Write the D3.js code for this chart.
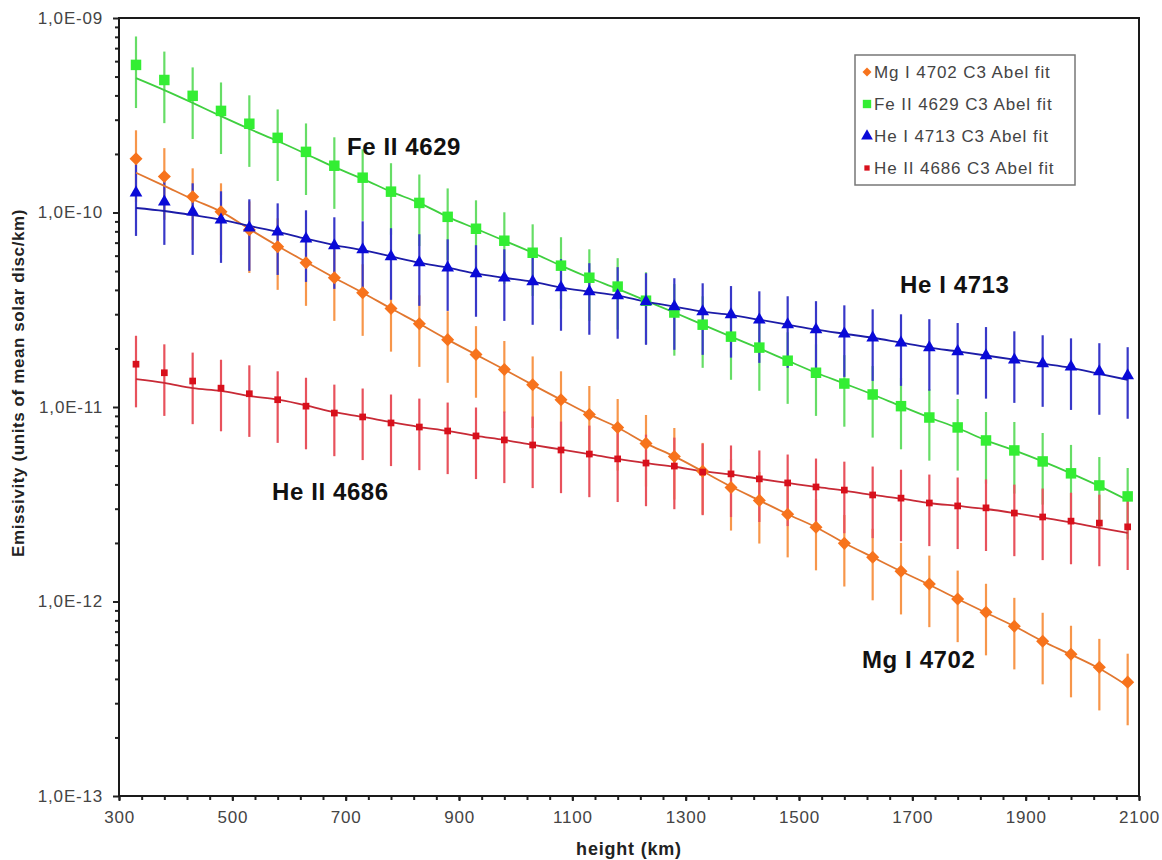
<!DOCTYPE html>
<html>
<head>
<meta charset="utf-8">
<script src="https://cdn.jsdelivr.net/npm/d3@7/dist/d3.min.js"></script>
<style>
  html, body { margin: 0; padding: 0; background: #fff; }
  svg { display: block; font-family: "Liberation Sans", Arial, sans-serif; }
</style>
</head>
<body>
<svg id="chart" width="1162" height="860"></svg>
<script>
// ---------------- data ----------------
const heights = [330,380,430,480,530,580,630,680,730,780,830,880,930,980,1030,1080,1130,1180,
                 1230,1280,1330,1380,1430,1480,1530,1580,1630,1680,1730,1780,1830,1880,1930,1980,2030,2080];

const mgI4702 = [1.89e-10,1.53e-10,1.205e-10,1.009e-10,8.15e-11,6.67e-11,5.52e-11,4.62e-11,3.87e-11,3.21e-11,
                 2.68e-11,2.22e-11,1.86e-11,1.56e-11,1.30e-11,1.09e-11,9.16e-12,7.85e-12,6.50e-12,5.57e-12,
                 4.67e-12,3.86e-12,3.31e-12,2.81e-12,2.41e-12,1.99e-12,1.69e-12,1.43e-12,1.23e-12,1.03e-12,
                 8.81e-13,7.46e-13,6.25e-13,5.36e-13,4.59e-13,3.85e-13];
const feII4629 = [5.74e-10,4.80e-10,3.98e-10,3.33e-10,2.86e-10,2.42e-10,2.05e-10,1.74e-10,1.51e-10,1.28e-10,
                  1.12e-10,9.5e-11,8.25e-11,7.16e-11,6.21e-11,5.33e-11,4.62e-11,4.16e-11,3.52e-11,3.06e-11,
                  2.65e-11,2.30e-11,2.02e-11,1.73e-11,1.50e-11,1.32e-11,1.16e-11,1.01e-11,8.83e-12,7.85e-12,
                  6.73e-12,5.98e-12,5.25e-12,4.56e-12,3.95e-12,3.47e-12];
const heI4713 = [1.263e-10,1.136e-10,1.009e-10,9.18e-11,8.35e-11,7.96e-11,7.33e-11,6.75e-11,6.44e-11,5.93e-11,
                 5.52e-11,5.20e-11,4.85e-11,4.62e-11,4.41e-11,4.11e-11,3.92e-11,3.74e-11,3.48e-11,3.28e-11,
                 3.09e-11,2.99e-11,2.81e-11,2.65e-11,2.50e-11,2.38e-11,2.27e-11,2.14e-11,2.02e-11,1.93e-11,
                 1.84e-11,1.75e-11,1.67e-11,1.61e-11,1.52e-11,1.45e-11];
const heII4686 = [1.66e-11,1.50e-11,1.36e-11,1.25e-11,1.17e-11,1.09e-11,1.01e-11,9.31e-12,8.89e-12,8.28e-12,
                  7.89e-12,7.53e-12,7.10e-12,6.77e-12,6.38e-12,6.01e-12,5.73e-12,5.41e-12,5.15e-12,4.97e-12,
                  4.63e-12,4.53e-12,4.27e-12,4.07e-12,3.88e-12,3.74e-12,3.53e-12,3.40e-12,3.21e-12,3.10e-12,
                  3.03e-12,2.85e-12,2.72e-12,2.59e-12,2.53e-12,2.42e-12];

// fitted curves ("C3 Abel fit")
const mgI4702Fit = [1.60e-10,1.37e-10,1.17e-10,1.01e-10,8.22e-11,6.73e-11,5.57e-11,4.62e-11,3.87e-11,3.21e-11,
                    2.68e-11,2.22e-11,1.86e-11,1.56e-11,1.30e-11,1.09e-11,9.16e-12,7.85e-12,6.50e-12,5.57e-12,
                    4.67e-12,3.90e-12,3.31e-12,2.81e-12,2.41e-12,2.00e-12,1.69e-12,1.43e-12,1.22e-12,1.03e-12,
                    8.75e-13,7.46e-13,6.25e-13,5.33e-13,4.52e-13,3.68e-13];
const feII4629Fit = [4.91e-10,4.26e-10,3.66e-10,3.13e-10,2.69e-10,2.33e-10,2.00e-10,1.71e-10,1.49e-10,1.28e-10,
                     1.12e-10,9.5e-11,8.25e-11,7.16e-11,6.21e-11,5.33e-11,4.62e-11,4.05e-11,3.52e-11,3.06e-11,
                     2.65e-11,2.30e-11,2.00e-11,1.73e-11,1.50e-11,1.32e-11,1.16e-11,1.01e-11,8.83e-12,7.80e-12,
                     6.73e-12,5.98e-12,5.25e-12,4.56e-12,3.92e-12,3.32e-12];
const heI4713Fit = [1.055e-10,1.018e-10,9.7e-11,9.18e-11,8.53e-11,7.96e-11,7.33e-11,6.80e-11,6.40e-11,5.95e-11,
                    5.52e-11,5.20e-11,4.85e-11,4.62e-11,4.41e-11,4.11e-11,3.92e-11,3.74e-11,3.48e-11,3.28e-11,
                    3.09e-11,2.97e-11,2.81e-11,2.65e-11,2.50e-11,2.38e-11,2.27e-11,2.14e-11,2.02e-11,1.93e-11,
                    1.84e-11,1.75e-11,1.67e-11,1.59e-11,1.48e-11,1.38e-11];
const heII4686Fit = [1.39e-11,1.33e-11,1.25e-11,1.21e-11,1.14e-11,1.09e-11,1.02e-11,9.4e-12,8.89e-12,8.35e-12,
                     7.89e-12,7.53e-12,7.10e-12,6.77e-12,6.38e-12,6.05e-12,5.73e-12,5.41e-12,5.15e-12,4.93e-12,
                     4.68e-12,4.50e-12,4.27e-12,4.07e-12,3.88e-12,3.72e-12,3.53e-12,3.38e-12,3.21e-12,3.10e-12,
                     2.99e-12,2.85e-12,2.70e-12,2.55e-12,2.39e-12,2.25e-12];

// relative uncertainty of each series (error bar half-length / value)
const relErrors = [0.40, 0.40, 0.40, 0.40];

const seriesNames = ["Mg I 4702 C3 Abel fit","Fe II 4629 C3 Abel fit","He I 4713 C3 Abel fit","He II 4686 C3 Abel fit"];
const lineLabels = ["Mg I 4702","Fe II 4629","He I 4713","He II 4686"];

const xTickValues = [300,500,700,900,1100,1300,1500,1700,1900,2100];
const yTickValues = [1e-13,1e-12,1e-11,1e-10,1e-9];
const yTickLabels = ["1,0E-13","1,0E-12","1,0E-11","1,0E-10","1,0E-09"];

const xTitle = "height (km)";
const yTitle = "Emissivity (units of mean solar disc/km)";

// ---------------- layout / style ----------------
const L = 119, R = 1139, T = 18, B = 796;
const styles = [
  {marker:"diamond",  fill:"#f7731c", err:"#f7964a", line:"#e2772f", size:85,  legendSize:40},
  {marker:"square",   fill:"#33ee33", err:"#66dd66", line:"#3fcf3f", size:110, legendSize:70},
  {marker:"triangle", fill:"#0a0ad8", err:"#3838c8", line:"#1c1ca8", size:70,  legendSize:60},
  {marker:"square",   fill:"#d8101c", err:"#e8525c", line:"#c82a36", size:45,  legendSize:28}
];
const values = [mgI4702, feII4629, heI4713, heII4686];
const fits = [mgI4702Fit, feII4629Fit, heI4713Fit, heII4686Fit];
const labelPos = [[862,668],[347,155],[900,293],[272,500]];

const svg = d3.select("#chart");
const x = d3.scaleLinear().domain([300,2100]).range([L,R]);
const y = d3.scaleLog().domain([1e-13,1e-9]).range([B,T]);

const symType = {diamond:d3.symbolSquare, square:d3.symbolSquare, triangle:d3.symbolTriangle};
const symRot = {diamond:45, square:0, triangle:0};

// axes
const xAxisMinor = d3.axisBottom(x).tickValues(d3.range(300,2101,40)).tickSize(4).tickFormat("");
svg.append("g").attr("transform",`translate(0,${B})`).call(xAxisMinor)
  .call(g=>g.select(".domain").remove())
  .selectAll("line").attr("stroke","#222").attr("stroke-width",2);
const xAxis = d3.axisBottom(x).tickValues(xTickValues).tickSize(5).tickPadding(10).tickFormat(d3.format("d"));
svg.append("g").attr("transform",`translate(0,${B})`).call(xAxis)
  .call(g=>g.select(".domain").remove())
  .call(g=>g.selectAll("line").attr("stroke","#222").attr("stroke-width",2))
  .call(g=>g.selectAll("text").attr("font-size",17).attr("fill","#444")
        .attr("font-family","'Liberation Sans', Arial, sans-serif").style("letter-spacing","0.8px"));

const minorY = [];
for (let e=-13; e<-9; e++) for (let m=2; m<=9; m++) minorY.push(m*Math.pow(10,e));
const yAxisMinor = d3.axisLeft(y).tickValues(minorY).tickSize(4).tickFormat("");
svg.append("g").attr("transform",`translate(${L},0)`).call(yAxisMinor)
  .call(g=>g.select(".domain").remove())
  .selectAll("line").attr("stroke","#222").attr("stroke-width",2);
const yAxis = d3.axisLeft(y).tickValues(yTickValues).tickSize(6).tickPadding(10)
  .tickFormat((d,i)=>yTickLabels[i]);
svg.append("g").attr("transform",`translate(${L},0)`).call(yAxis)
  .call(g=>g.select(".domain").remove())
  .call(g=>g.selectAll("line").attr("stroke","#222").attr("stroke-width",2))
  .call(g=>g.selectAll("text").attr("font-size",17).attr("fill","#444")
        .attr("font-family","'Liberation Sans', Arial, sans-serif").style("letter-spacing","0.8px"));

// frame
svg.append("rect").attr("x",L).attr("y",T).attr("width",R-L).attr("height",B-T)
  .attr("fill","none").attr("stroke","#1a1a1a").attr("stroke-width",2);

// axis titles
svg.append("text").attr("x",(L+R)/2).attr("y",855).attr("text-anchor","middle")
  .attr("font-size",18).attr("font-weight","bold").attr("fill","#222").style("letter-spacing","0.8px").text(xTitle);
svg.append("text").attr("transform","translate(24,383) rotate(-90)").attr("text-anchor","middle")
  .attr("font-size",17).attr("font-weight","bold").attr("fill","#222").style("letter-spacing","0.6px").text(yTitle);

const plot = svg.append("g");

// error bars
values.forEach((vals,s)=>{
  plot.append("g").selectAll("line").data(vals).join("line")
    .attr("x1",(d,i)=>x(heights[i])).attr("x2",(d,i)=>x(heights[i]))
    .attr("y1",d=>y(d*(1+relErrors[s]))).attr("y2",d=>y(d*(1-relErrors[s])))
    .attr("stroke",styles[s].err).attr("stroke-width",2.2);
});
// fit lines
const lineGen = d3.line().x((d,i)=>x(heights[i])).y(d=>y(d)).curve(d3.curveMonotoneX);
fits.forEach((f,s)=>{
  plot.append("path").datum(f).attr("d",lineGen).attr("fill","none")
    .attr("stroke",styles[s].line).attr("stroke-width",1.8);
});
// markers
values.forEach((vals,s)=>{
  const st = styles[s];
  const sym = d3.symbol().type(symType[st.marker]).size(st.size);
  plot.append("g").selectAll("path").data(vals).join("path")
    .attr("transform",(d,i)=>`translate(${x(heights[i])},${y(d)}) rotate(${symRot[st.marker]})`)
    .attr("d",sym).attr("fill",st.fill);
});

// in-plot labels
lineLabels.forEach((t,i)=>{
  svg.append("text").attr("x",labelPos[i][0]).attr("y",labelPos[i][1])
    .attr("font-size",24).attr("font-weight","bold").attr("fill","#111").style("letter-spacing","0.6px").text(t);
});

// legend
const lg = svg.append("g");
lg.append("rect").attr("x",855).attr("y",55).attr("width",220).attr("height",130)
  .attr("fill","#fff").attr("stroke","#777").attr("stroke-width",1.5);
seriesNames.forEach((name,i)=>{
  const cy = 72 + i*32;
  const st = styles[i];
  lg.append("path").attr("transform",`translate(867,${cy}) rotate(${symRot[st.marker]})`)
    .attr("d",d3.symbol().type(symType[st.marker]).size(st.legendSize)).attr("fill",st.fill);
  lg.append("text").attr("x",874).attr("y",cy).attr("dy","0.36em")
    .attr("font-size",17).attr("fill","#444").style("letter-spacing","0.9px").text(name);
});
</script>
</body>
</html>
